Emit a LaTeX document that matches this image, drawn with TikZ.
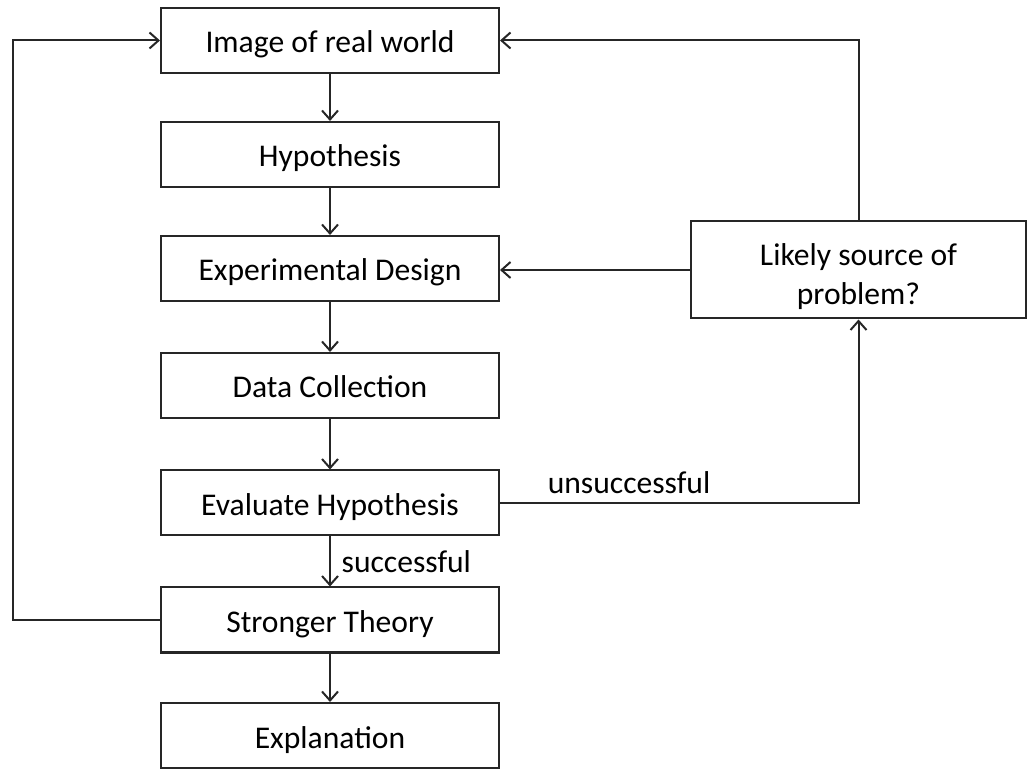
\documentclass[tikz,border=0pt]{standalone}
\usepackage{fontspec}
\setmainfont{Carlito}
\usetikzlibrary{arrows, arrows.meta}
\usetikzlibrary{calc}

\tikzset{
	stepbox/.style={draw=black!85, line width=1pt, rectangle, minimum width=169pt, minimum height=32.5pt, inner sep=0pt, align=center, text height=12.5pt, text depth=0pt, font=\fontsize{15.8}{19.5}\selectfont},
	flow/.style={draw=black!85, line width=1pt, -{Straight Barb[length=4.5pt,width=8pt,line width=1pt]}}
}

\begin{document}
\begin{tikzpicture}[x=0.5pt, y=-0.5pt]
					\useasboundingbox (0,0) rectangle (1028,769);
					% draw main column
					\node[stepbox] (img) at (330,40.5) {Image of real world};
					\node[stepbox] (hyp) at (330,154.5) {Hypothesis};
					\node[stepbox] (exp) at (330,268.5) {Experimental Design};
					\node[stepbox] (data) at (330,385.5) {Data Collection};
					\node[stepbox] (eval) at (330,503) {Evaluate Hypothesis};
					\node[stepbox] (strong) at (330,620) {Stronger Theory};
					\node[stepbox] (expl) at (330,735.5) {Explanation};
					% draw side box
					\node[stepbox, minimum width=167.5pt, minimum height=48.5pt, text height=35pt] (likely) at (858.5,270) {Likely source of\\problem?};
					% add arrows down
					\draw[flow] (img) -- (hyp);
					\draw[flow] (hyp) -- (exp);
					\draw[flow] (exp) -- (data);
					\draw[flow] (data) -- (eval);
					\draw[flow] (eval) -- (strong) node[midway, right=2pt, font=\fontsize{15.8}{18}\selectfont] {successful};
					\draw[flow] (strong) -- (expl);
					% add loops
					\coordinate (lft) at (13,620);
					\draw[flow] (strong.west) -- (lft) |- (img.west);
					\draw[flow] (eval.east) -| (likely.south) node[pos=0.18, above=1pt, font=\fontsize{15.8}{18}\selectfont] {unsuccessful};
					\draw[flow] (likely.west) -- (exp.east |- likely.west);
					\draw[flow] (likely.north) |- (img.east);
				\end{tikzpicture}
\end{document}
